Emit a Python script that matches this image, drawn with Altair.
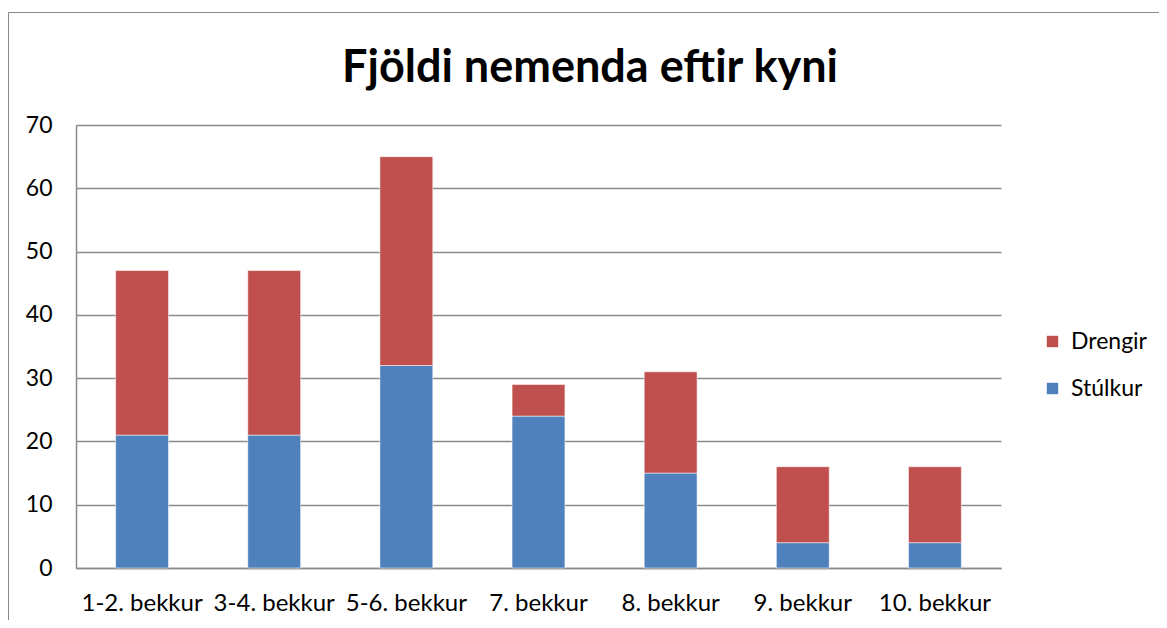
import altair as alt
import pandas as pd

categories = ["1-2. bekkur", "3-4. bekkur", "5-6. bekkur", "7. bekkur", "8. bekkur", "9. bekkur", "10. bekkur"]
stulkur = [21, 21, 32, 24, 15, 4, 4]
drengir = [26, 26, 33, 5, 16, 12, 12]
series_names = ["Drengir", "Stúlkur"]
series_colors = ["#C0504D", "#4F81BD"]
y_ticks = [0, 10, 20, 30, 40, 50, 60, 70]
title_text = "Fjöldi nemenda eftir kyni"

rows = []
for c, s, d in zip(categories, stulkur, drengir):
    rows.append({"bekkur": c, "kyn": "Stúlkur", "fjoldi": s, "rod": 0})
    rows.append({"bekkur": c, "kyn": "Drengir", "fjoldi": d, "rod": 1})
df = pd.DataFrame(rows)

FONT = "Lato"
FS = 23
W, H = 925, 443
PL, PT, PR, PB = 68, 117, 158, 52

bars = alt.Chart(df).mark_bar(stroke="white", strokeWidth=1, strokeOpacity=0.5).encode(
    x=alt.X("bekkur:N", sort=categories, title=None,
            scale=alt.Scale(paddingInner=0.6, paddingOuter=0.3),
            axis=alt.Axis(labelAngle=0, labelFontSize=24, labelFont=FONT, labelColor="black",
                          labelPadding=23, ticks=False, tickSize=0, domainColor="#8a8a8a",
                          domainWidth=1.5, grid=False)),
    y=alt.Y("fjoldi:Q", stack="zero", title=None,
            scale=alt.Scale(domain=[0, 70], nice=False),
            axis=alt.Axis(values=y_ticks, labelFontSize=FS, labelFont=FONT, labelColor="black",
                          labelPadding=24, ticks=False, tickSize=0, domainColor="#8a8a8a",
                          domainWidth=1.5, gridColor="#8a8a8a", gridWidth=1.5)),
    color=alt.Color("kyn:N", scale=alt.Scale(domain=series_names, range=series_colors),
                    legend=alt.Legend(title=None, orient="none", legendX=965, legendY=205,
                                      symbolType="square", symbolSize=130, symbolStrokeWidth=0,
                                      labelFontSize=FS, labelFont=FONT, labelColor="black",
                                      rowPadding=23, labelOffset=7)),
    order=alt.Order("rod:Q", sort="ascending"),
)

one = pd.DataFrame({"t": [title_text]})
title = alt.Chart(one).mark_text(fontSize=45, font=FONT, fontWeight="bold", color="black",
                                 align="center", baseline="middle").encode(
    text="t:N", x=alt.value(590 - 76), y=alt.value(68 - 125))

vline = alt.Chart(one).mark_rule(color="#888888", strokeWidth=1).encode(
    x=alt.value(-PL + 0.5), y=alt.value(-PT + 4.5), y2=alt.value(H + PB))
hline = alt.Chart(one).mark_rule(color="#888888", strokeWidth=1).encode(
    x=alt.value(-PL + 0.5), x2=alt.value(W + PR), y=alt.value(-PT + 4.5))

chart = alt.layer(bars, title, vline, hline).properties(
    width=W, height=H,
    autosize=alt.AutoSizeParams(type="none"),
    padding={"left": PL, "top": PT, "right": PR, "bottom": PB},
).configure_view(stroke=None)

chart.save("out.html", embed_options={"renderer": "svg", "actions": False})
